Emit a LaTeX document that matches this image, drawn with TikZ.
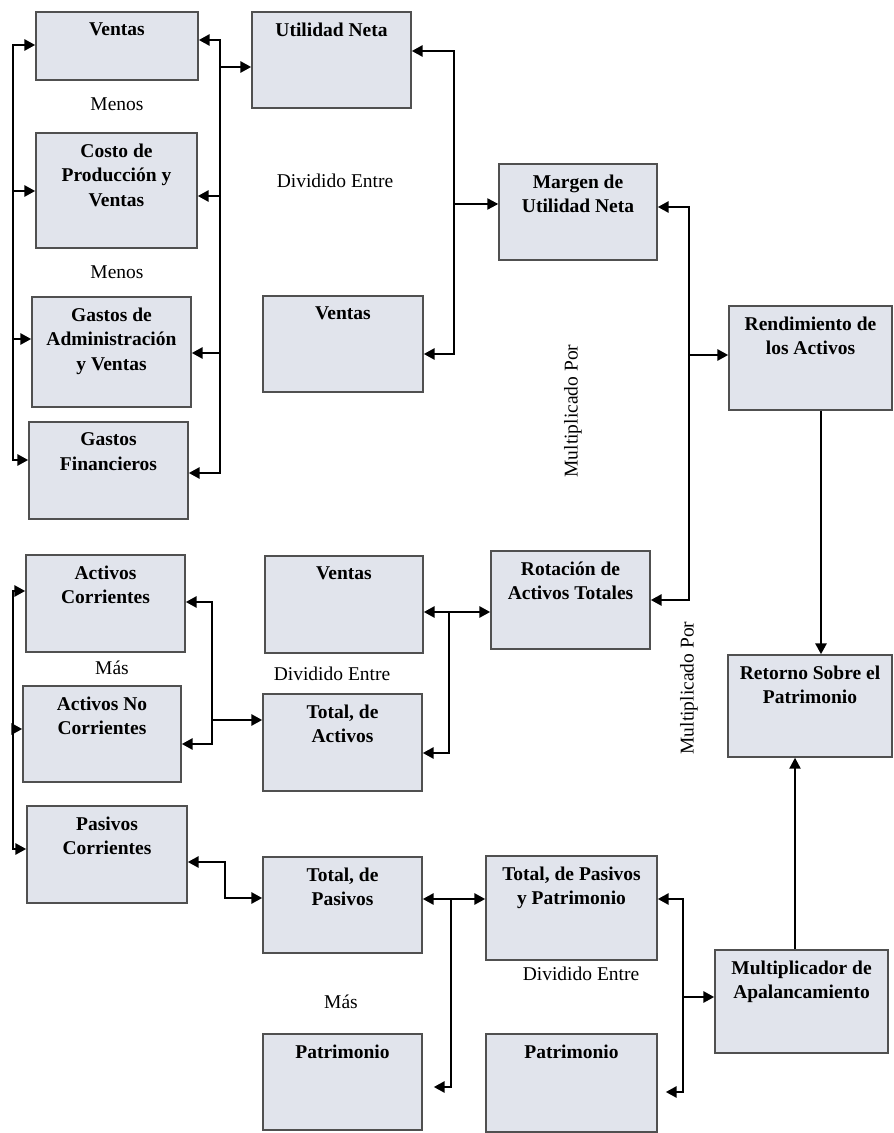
\documentclass[tikz,border=0pt]{standalone}
\usepackage{fontspec}
\setmainfont{Liberation Serif}
\usetikzlibrary{arrows.meta}
\definecolor{fondo}{RGB}{225,228,236}
\definecolor{borde}{RGB}{80,80,80}
\begin{document}
\begin{tikzpicture}[x=.5pt, y=-.5pt, >={Triangle[length=5.5pt,width=5.5pt]},
  caja/.style={draw=borde, fill=fondo, line width=.7pt, inner sep=0pt},
  titulo/.style={anchor=north, align=center, inner sep=0pt, yshift=-5.5pt,
    font=\bfseries\fontsize{9.75}{12.25}\selectfont},
  texto/.style={inner sep=0pt, font=\fontsize{9.75}{12}\selectfont},
  linea/.style={line width=1.45pt}]
\useasboundingbox (0,0) rectangle (893,1133);

% cajas arriba
\node[caja, minimum width=81pt, minimum height=34pt, label={[titulo]north:Ventas}] (ventas1) at (117,46) {};
\node[caja, minimum width=79.5pt, minimum height=48pt, label={[titulo]north:Utilidad Neta}] (utilidad) at (331.5,60) {};
\node[caja, minimum width=80.5pt, minimum height=57.5pt, label={[titulo]north:{Costo de\\Producción y\\Ventas}}] (costo) at (116.5,190.5) {};
\node[caja, minimum width=79.5pt, minimum height=55pt, label={[titulo]north:{Gastos de\\Administración\\y Ventas}}] (admin) at (111.5,352) {};
\node[caja, minimum width=79.5pt, minimum height=48.5pt, label={[titulo]north:{Gastos\\Financieros}}] (financ) at (108.5,470.5) {};
\node[caja, minimum width=80pt, minimum height=48pt, label={[titulo]north:Ventas}] (ventas2) at (343,344) {};
\node[caja, minimum width=79pt, minimum height=48pt, label={[titulo]north:{Margen de\\Utilidad Neta}}] (margen) at (578,212) {};
\node[caja, minimum width=81.5pt, minimum height=52pt, label={[titulo]north:{Rendimiento de\\los Activos}}] (rendim) at (810.5,358) {};

% cajas medio
\node[caja, minimum width=79.5pt, minimum height=48.5pt, label={[titulo]north:{Activos\\Corrientes}}] (actcorr) at (105.5,603.5) {};
\node[caja, minimum width=79pt, minimum height=48pt, label={[titulo]north:{Activos No\\Corrientes}}] (actnocorr) at (102,734) {};
\node[caja, minimum width=80pt, minimum height=48.5pt, label={[titulo]north:{Pasivos\\Corrientes}}] (pascorr) at (107,854.5) {};
\node[caja, minimum width=79pt, minimum height=48.5pt, label={[titulo]north:Ventas}] (ventas3) at (344,604.5) {};
\node[caja, minimum width=79.5pt, minimum height=48.5pt, label={[titulo]north:{Total, de\\Activos}}] (totact) at (342.5,742.5) {};
\node[caja, minimum width=79.5pt, minimum height=49pt, label={[titulo]north:{Rotación de\\Activos Totales}}] (rotacion) at (570.5,600) {};
\node[caja, minimum width=82pt, minimum height=51pt, label={[titulo]north:{Retorno Sobre el\\Patrimonio}}] (retorno) at (810,706) {};

% cajas abajo
\node[caja, minimum width=79.5pt, minimum height=48pt, label={[titulo]north:{Total, de\\Pasivos}}] (totpas) at (342.5,905) {};
\node[caja, minimum width=85.5pt, minimum height=52pt, label={[titulo]north:{Total, de Pasivos\\y Patrimonio}}] (totpaspat) at (571.5,908) {};
\node[caja, minimum width=79.5pt, minimum height=48pt, label={[titulo]north:Patrimonio}] (patri1) at (342.5,1082) {};
\node[caja, minimum width=85.5pt, minimum height=49pt, label={[titulo]north:Patrimonio}] (patri2) at (571.5,1083) {};
\node[caja, minimum width=86.5pt, minimum height=51.5pt, label={[titulo]north:{Multiplicador de\\Apalancamiento}}] (multiplic) at (801.5,1001.5) {};

% textos
\node[texto] (menos1) at (117,104) {Menos};
\node[texto] (menos2) at (117,272) {Menos};
\node[texto] (div1) at (335,181) {Dividido Entre};
\node[texto, rotate=90] (mult1) at (573,411) {Multiplicado Por};
\node[texto] (mas1) at (112,668) {Más};
\node[texto] (div2) at (332,674) {Dividido Entre};
\node[texto, rotate=90] (mult2) at (689,688) {Multiplicado Por};
\node[texto] (mas2) at (341,1002) {Más};
\node[texto] (div3) at (581,974) {Dividido Entre};

% flechas arriba
\draw[linea,<->] (ventas1.west |- 0,45) -| (13,460) -- (financ.west |- 0,460);
\foreach \n/\y in {costo/191,admin/339}
  \draw[linea,->] (13,\y) -- (\n.west |- 0,\y);
\draw[linea,<->] (ventas1.east |- 0,40) -| (220,473) -- (financ.east |- 0,473);
\foreach \n/\y in {costo/196,admin/353}
  \draw[linea,<-] (\n.east |- 0,\y) -- (220,\y);
\draw[linea,->] (220,67) -- (utilidad.west |- 0,67);
\draw[linea,<->] (utilidad.east |- 0,51) -| (454,354) -- (ventas2.east |- 0,354);
\draw[line width=1.1pt,->] (454,204) -- (margen.west |- 0,204);
\draw[linea,<->] (margen.east |- 0,207) -| (689,600) -- (rotacion.east |- 0,600);
\draw[linea,->] (689,355) -- (rendim.west |- 0,355);
\draw[linea,->] (rendim.south -| 821,0) -- (retorno.north -| 821,0);
\draw[line width=1.1pt,->] (multiplic.north -| 795,0) -- (retorno.south -| 795,0);

% flechas medio
\draw[linea,<->] (actcorr.west |- 0,591) -| (13,849) -- (pascorr.west |- 0,849);
\draw[linea,->] (13,729) -- (actnocorr.west |- 0,729);
\draw[linea,<->] (actcorr.east |- 0,602) -| (212,744) -- (actnocorr.east |- 0,744);
\draw[linea,->] (212,720) -- (totact.west |- 0,720);
\draw[linea,<->] (ventas3.east |- 0,612) -- (rotacion.west |- 0,612);
\draw[linea,->] (449,612) |- (totact.east |- 0,753);

% flechas abajo
\coordinate (p1) at ([xshift=5.5pt]patri1.east);
\coordinate (p2) at ([xshift=4pt]patri2.east);
\draw[linea,<->] (pascorr.east |- 0,862) -| (225,898) -- (totpas.west |- 0,898);
\draw[linea,<->] (totpas.east |- 0,899) -- (totpaspat.west |- 0,899);
\draw[linea,->] (451,899) |- (p1 |- 0,1087);
\draw[linea,<->] (totpaspat.east |- 0,899) -| (683,1092) -- (p2 |- 0,1092);
\draw[linea,->] (683,997) -- (multiplic.west |- 0,997);

\end{tikzpicture}
\end{document}
